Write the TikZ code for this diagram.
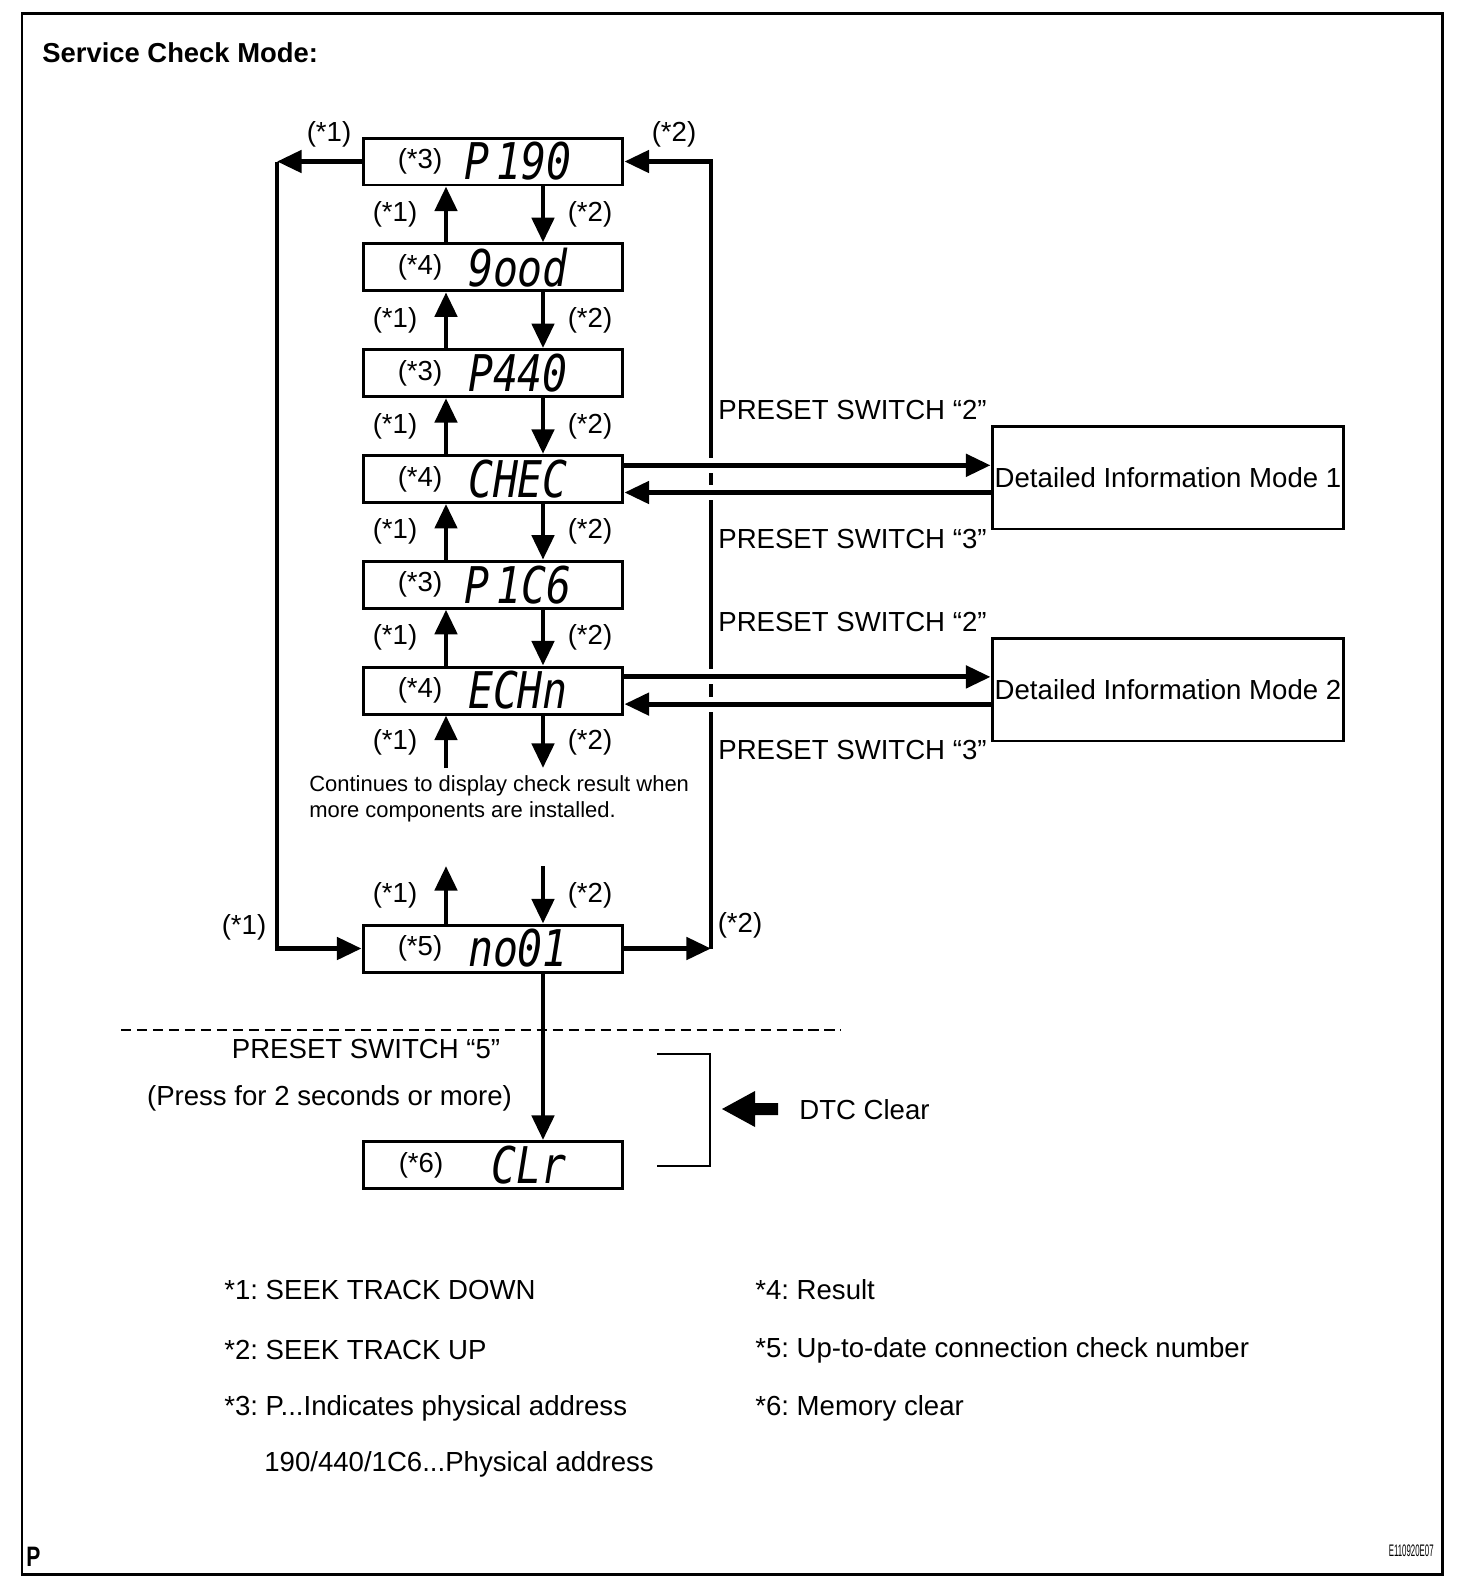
\documentclass[tikz,border=0pt]{standalone}
\usepackage{fontspec}
\setmainfont{Liberation Sans}
\newfontfamily\lcdfont{DejaVu Sans Mono}[WordSpace=0.3]
\usetikzlibrary{arrows.meta,calc}
\newcommand{\lcd}[1]{\scalebox{0.82}[1]{\lcdfont\itshape\fontsize{28.8}{30}\selectfont #1}}
\frenchspacing

\begin{document}
\begin{tikzpicture}[x=0.02cm, y=-0.02cm,
    every node/.style={font=\fontsize{15.7}{18}\selectfont, inner sep=0pt},
    disp/.style={draw, line width=1.7pt, minimum width=5.2cm, minimum height=0.94cm},
    modebox/.style={draw, line width=1.7pt, minimum width=7.04cm, minimum height=2.06cm},
    flow/.style={line width=2.8pt, -{Triangle[length=14pt, width=12.5pt]}},
    loopline/.style={line width=2.8pt}]
    \useasboundingbox (0,0) rectangle (1472,1580);
    \draw[line width=1.7pt] (22,13) rectangle (1442,1574);
    \node[anchor=west, font=\fontsize{15.6}{18}\selectfont\bfseries] (title) at (42,53) {Service Check Mode:};

    \foreach \i/\y in {1/161.5, 2/267.3, 3/373.1, 4/478.9, 5/584.7, 6/690.5, 7/948.5, 8/1165}
        \node[disp] (d\i) at (493,\y) {};
    \foreach \i/\t/\s in {1/3/P 190, 2/4/9ood, 3/3/P440, 4/4/CHEC, 5/3/P 1C6, 6/4/ECHn, 7/5/no01}
    {
        \node (t\i) at ($(d\i)+(-73,0)$) {(*\t)};
        \node (s\i) at ($(d\i)+(25,0)$) {\lcd{\s}};
    }
    \node (t8) at ($(d8)+(-72,0)$) {(*6)};
    \node (s8) at ($(d8)+(36,0)$) {\lcd{CLr}};

    \coordinate (up) at (446,0);
    \coordinate (dn) at (543,0);
    \coordinate (lx) at (277,0);
    \coordinate (rx) at (711,0);
    \foreach \i/\j/\y in {1/2/214.4, 2/3/320.2, 3/4/426, 4/5/531.8, 5/6/637.6}
    {
        \draw[flow] (d\j.north -| up) -- (d\i.south -| up);
        \draw[flow] (d\i.south -| dn) -- (d\j.north -| dn);
        \node (a\i) at (395,\y) {(*1)};
        \node (b\i) at (590,\y) {(*2)};
    }
    \coordinate (e1) at (446,768);
    \coordinate (e2) at (543,768);
    \coordinate (e3) at (446,866);
    \coordinate (e4) at (543,866);
    \draw[flow] (e1) -- (d6.south -| up);
    \draw[flow] (d6.south -| dn) -- (e2);
    \draw[flow] (d7.north -| up) -- (e3);
    \draw[flow] (e4) -- (d7.north -| dn);
    \node (a6) at (395,742.5) {(*1)};
    \node (b6) at (590,742.5) {(*2)};
    \node (a7) at (395,895.7) {(*1)};
    \node (b7) at (590,895.7) {(*2)};
    \node[anchor=west, align=left, font=\fontsize{12.5}{14.7}\selectfont] (note) at (309,799)
        {Continues to display check result when\\more components are installed.};

    \draw[flow] (d1.west) -- (d1.west -| lx);
    \draw[flow] (d1.west -| lx) -- (d7.west -| lx) -- (d7.west);
    \draw[flow] (d7.east) -- (d7.east -| rx);
    \draw[flow] (d7.east -| rx) -- (d1.east -| rx) -- (d1.east);
    \node (a0) at (329,134) {(*1)};
    \node (b0) at (674,134) {(*2)};
    \node (a8) at (244,927) {(*1)};
    \node (b8) at (740,925) {(*2)};

    \node[modebox] (m1) at (1168,477.5) {Detailed Information Mode 1};
    \node[modebox] (m2) at (1168,689.5) {Detailed Information Mode 2};
    \foreach \d/\m in {4/m1, 6/m2}
    {
        \coordinate (o\d) at ($(d\d.east)+(0,-13.6)$);
        \coordinate (i\d) at ($(d\d.east)+(0,13.6)$);
        \draw[white, line width=8.5pt] ($(o\d -| rx)+(-6,0)$) -- ($(o\d -| rx)+(6,0)$);
        \draw[white, line width=8.5pt] ($(i\d -| rx)+(-6,0)$) -- ($(i\d -| rx)+(6,0)$);
        \draw[flow] (o\d) -- (o\d -| \m.west);
        \draw[flow] (i\d -| \m.west) -- (i\d);
    }
    \node[anchor=west] (ps1) at (718,410) {PRESET SWITCH “2”};
    \node[anchor=west] (ps2) at (718,539) {PRESET SWITCH “3”};
    \node[anchor=west] (ps3) at (718,622) {PRESET SWITCH “2”};
    \node[anchor=west] (ps4) at (718,750) {PRESET SWITCH “3”};

    \draw[flow] (d7.south -| dn) -- (d8.north -| dn);
    \draw[line width=0.85pt, dash pattern=on 5.7pt off 3.4pt] (121,1030) -- (841,1030);
    \node (ps5) at (366,1049) {PRESET SWITCH “5”};
    \node (press) at (329.5,1098) {(Press for 2 seconds or more)};
    \draw[line width=0.85pt] (657,1054) -- (710,1054) -- (710,1166) -- (657,1166);
    \fill (722,1109) -- (755,1091) -- (755,1103) -- (778,1103) -- (778,1115) -- (755,1115) -- (755,1127) -- cycle;
    \node[anchor=west] (dtc) at (799,1110) {DTC Clear};

    \node[anchor=west] (k1) at (224,1290) {*1: SEEK TRACK DOWN};
    \node[anchor=west] (k2) at (224,1350) {*2: SEEK TRACK UP};
    \node[anchor=west] (k3) at (224,1408.5) {*3: P...Indicates physical address};
    \node[anchor=west] (k3b) at (264,1464) {190/440/1C6...Physical address};
    \node[anchor=west] (k4) at (755,1290) {*4: Result};
    \node[anchor=west] (k5) at (755,1350) {*5: Up-to-date connection check number};
    \node[anchor=west] (k6) at (755,1408.5) {*6: Memory clear};

    \node[anchor=west] (pmark) at (26,1557) {\scalebox{0.75}[1]{\fontsize{16}{18}\selectfont\bfseries P}};
    \node[anchor=east] (code) at (1434,1551) {\scalebox{0.47}[1]{\fontsize{9.5}{10}\selectfont E110920E07}};
\end{tikzpicture}
\end{document}
